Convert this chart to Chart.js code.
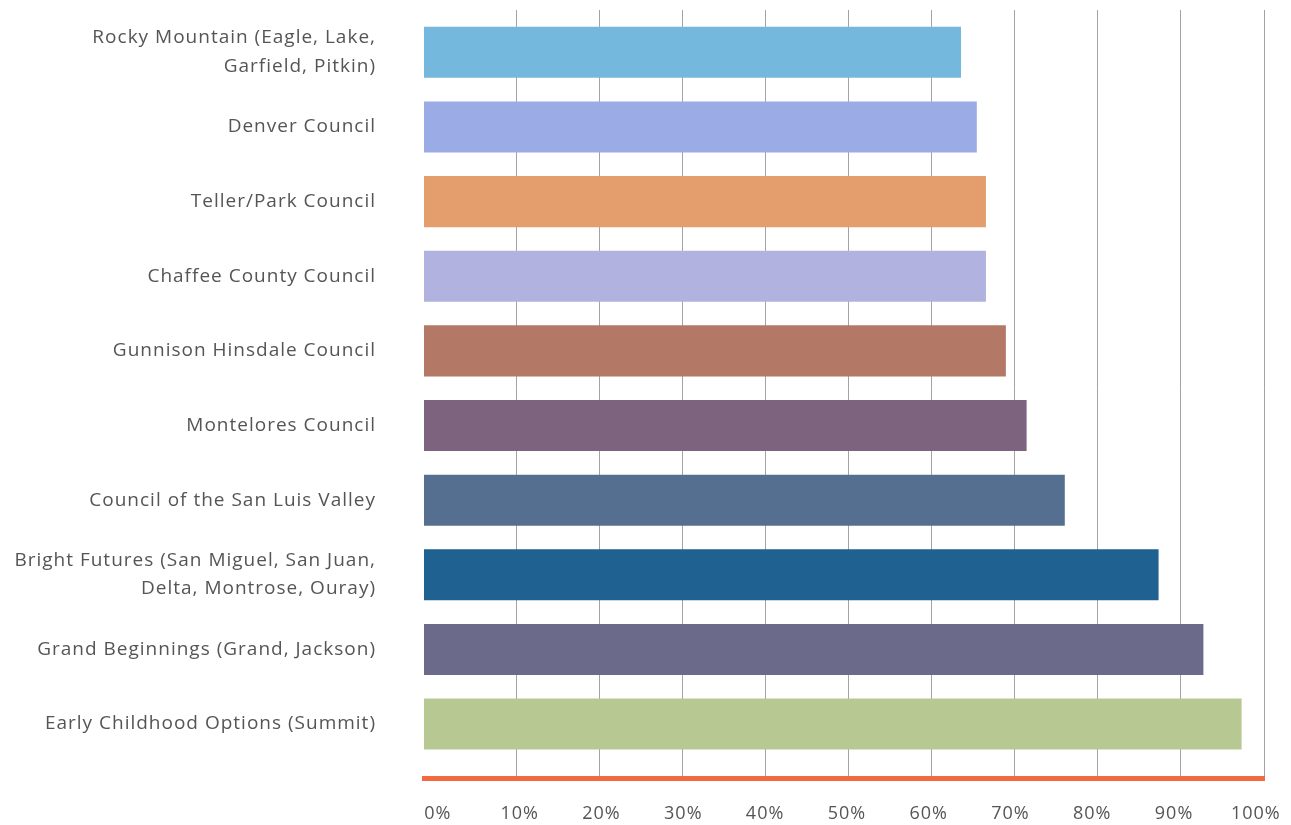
<!DOCTYPE html>
<html>
<head>
<meta charset="utf-8">
<script src="https://cdn.jsdelivr.net/npm/chart.js@4/dist/chart.umd.min.js"></script>
<style>
  html, body { margin: 0; padding: 0; background: #fff; }
  canvas { display: block; }
</style>
</head>
<body>
<canvas id="chart" width="1291" height="825"></canvas>
<script>
const councils = [
  [`Rocky Mountain (Eagle, Lake,`, `Garfield, Pitkin)`],
  `Denver Council`,
  `Teller/Park Council`,
  `Chaffee County Council`,
  `Gunnison Hinsdale Council`,
  `Montelores Council`,
  `Council of the San Luis Valley`,
  [`Bright Futures (San Miguel, San Juan,`, `Delta, Montrose, Ouray)`],
  `Grand Beginnings (Grand, Jackson)`,
  `Early Childhood Options (Summit)`
];
const shares = [63.5, 65.4, 66.5, 66.5, 68.9, 71.4, 76.0, 87.3, 92.7, 97.3];
const barColors = [
  `#74b8dd`, `#9babe5`, `#e49e6d`, `#b1b2df`, `#b37866`,
  `#7d637d`, `#546f8f`, `#1f6190`, `#6c6a8a`, `#b8c892`
];
const gridTicks = [10, 20, 30, 40, 50, 60, 70, 80, 90, 100];
const labelTicks = [0, 10, 20, 30, 40, 50, 60, 70, 80, 90, 100];

// bars start a little left of zero, like the original
const X_MIN = -1.2;
const X_MAX = 100;

const FAMILY = `"Open Sans", Lato, sans-serif`;
const TEXT = `#555`;
const GRID = `#a3a3a3`;

const setTicks = (values) => (scale) => {
  scale.ticks = values.map((value) => ({value}));
};

// labels are allowed to hang over the plot edges
const noOverhang = (scale) => {
  scale.paddingTop = 0;
  scale.paddingBottom = 0;
  scale.paddingLeft = 0;
  scale.paddingRight = 0;
};

// the original typeface is wider, open the text up a little
const spacing = {
  id: `spacing`,
  beforeDraw(chart) {
    chart.ctx.letterSpacing = `1px`;
  }
};

new Chart(document.getElementById(`chart`), {
  type: `bar`,
  data: {
    labels: councils,
    datasets: [{
      data: shares,
      backgroundColor: barColors,
      base: X_MIN,
      barPercentage: 0.684,
      categoryPercentage: 1
    }]
  },
  options: {
    indexAxis: `y`,
    responsive: false,
    animation: false,
    layout: {padding: {top: 10, right: 27, bottom: 0, left: 0}},
    plugins: {legend: {display: false}, tooltip: {enabled: false}},
    scales: {
      y: {
        type: `category`,
        offset: true,
        grid: {display: false, drawTicks: false},
        border: {display: false},
        ticks: {color: TEXT, font: {family: FAMILY, size: 19, lineHeight: 1.5}, padding: 48},
        afterFit: (scale) => {
          noOverhang(scale);
          scale.width = 424;
        }
      },
      xTop: {
        type: `linear`,
        position: `top`,
        min: X_MIN,
        max: X_MAX,
        grid: {color: GRID, lineWidth: 1, tickLength: 5},
        border: {display: false},
        ticks: {display: false},
        afterBuildTicks: setTicks(gridTicks),
        afterFit: noOverhang
      },
      x: {
        type: `linear`,
        position: `bottom`,
        weight: 0,
        min: X_MIN,
        max: X_MAX,
        grid: {color: GRID, lineWidth: 1, tickLength: 17, drawOnChartArea: false},
        border: {display: false},
        ticks: {display: false},
        afterBuildTicks: setTicks(gridTicks),
        afterFit: noOverhang
      },
      xLabels: {
        type: `linear`,
        position: `bottom`,
        weight: 1,
        min: -1.7,
        max: 101,
        grid: {display: false, drawTicks: false},
        border: {display: true, color: `#f26a3f`, width: 5},
        ticks: {
          color: TEXT,
          font: {family: FAMILY, size: 18},
          padding: 25,
          maxRotation: 0,
          callback: (val) => `${val}%`
        },
        afterBuildTicks: setTicks(labelTicks),
        afterFit: (scale) => {
          noOverhang(scale);
          // chart.js counts the tick padding twice, keep only the top one
          scale.height -= scale.options.ticks.padding;
        }
      }
    }
  },
  plugins: [spacing]
});
</script>
</body>
</html>
